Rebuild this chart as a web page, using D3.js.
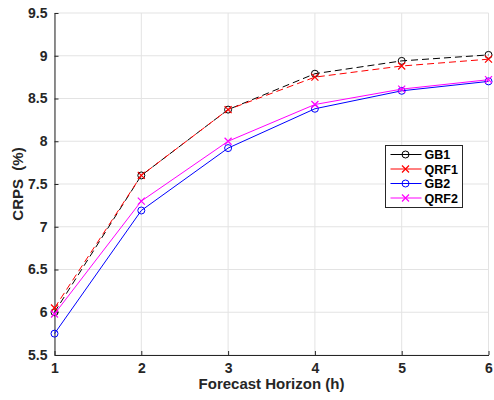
<!DOCTYPE html>
<html>
<head>
<meta charset="utf-8">
<script src="https://cdn.jsdelivr.net/npm/d3@7"></script>
<style>
  body { margin: 0; background: #fff; }
  svg { font-family: "Liberation Sans", Arial, sans-serif; }
</style>
</head>
<body>
<div id="chart"></div>
<script>

var horizons = [ 1, 2, 3, 4, 5, 6 ];
var gb1  = [ 6.00, 7.60, 8.37, 8.79, 8.94, 9.01 ];
var qrf1 = [ 6.05, 7.60, 8.37, 8.75, 8.88, 8.96 ];
var gb2  = [ 5.75, 7.19, 7.92, 8.38, 8.59, 8.70 ];
var qrf2 = [ 5.98, 7.30, 8.00, 8.43, 8.61, 8.72 ];
var yTicks = [ 5.5, 6, 6.5, 7, 7.5, 8, 8.5, 9, 9.5 ];

var series = [
    { name: 'GB1',  values: gb1,  color: '#000000', dash: '7,4', marker: 'circle' },
    { name: 'QRF1', values: qrf1, color: '#ff0000', dash: '7,4', marker: 'cross' },
    { name: 'GB2',  values: gb2,  color: '#0000ff', dash: null,  marker: 'circle' },
    { name: 'QRF2', values: qrf2, color: '#ff00ff', dash: null,  marker: 'cross' }
];

var width = 494,
    height = 400,
    margin = { top: 13, right: 5, bottom: 45, left: 54.5 };

var x = d3.scaleLinear()
    .domain([ 1, 6 ])
    .range([ margin.left, width - margin.right - 0.5 ]);

var y = d3.scaleLinear()
    .domain([ 5.5, 9.5 ])
    .range([ height - margin.bottom, margin.top ]);

var svg = d3.select('#chart').append('svg')
    .attr('width', width)
    .attr('height', height);

// grid

svg.append('g').selectAll('line')
    .data( yTicks )
    .enter().append('line')
    .attr('x1', x( 1 )).attr('x2', x( 6 ))
    .attr('y1', function ( d ) { return y( d ) })
    .attr('y2', function ( d ) { return y( d ) })
    .style('stroke', '#e3e3e3')
    .style('stroke-width', 1);

svg.append('g').selectAll('line')
    .data( horizons )
    .enter().append('line')
    .attr('x1', function ( d ) { return x( d ) })
    .attr('x2', function ( d ) { return x( d ) })
    .attr('y1', y( 5.5 )).attr('y2', y( 9.5 ))
    .style('stroke', '#e3e3e3')
    .style('stroke-width', 1);

// axes

var xAxis = svg.append('g')
    .attr('transform', 'translate(0,' + y( 5.5 ) + ')')
    .call( d3.axisBottom( x ).tickValues( horizons ).tickFormat( d3.format('d') ).tickSizeInner( -4 ).tickSizeOuter( 0 ).tickPadding( 8 ) );

var yAxis = svg.append('g')
    .attr('transform', 'translate(' + x( 1 ) + ',0)')
    .call( d3.axisLeft( y ).tickValues( yTicks ).tickFormat( function ( d ) { return d } ).tickSizeInner( -4 ).tickSizeOuter( 0 ).tickPadding( 7 ) );

[ xAxis, yAxis ].forEach( function ( a ) {
    a.select('.domain').style('stroke', '#262626').style('stroke-width', 1);
    a.selectAll('.tick line').style('stroke', '#262626');
    a.selectAll('.tick text')
        .style('font-size', '14px')
        .style('font-weight', 'bold')
        .style('fill', '#262626');
});

svg.append('text')
    .attr('x', ( x( 1 ) + x( 6 ) ) / 2)
    .attr('y', 389)
    .attr('text-anchor', 'middle')
    .style('font-size', '15px')
    .style('font-weight', 'bold')
    .style('fill', '#262626')
    .text('Forecast Horizon (h)');

svg.append('text')
    .attr('transform', 'translate(23,' + ( ( y( 5.5 ) + y( 9.5 ) ) / 2 ) + ') rotate(-90)')
    .attr('text-anchor', 'middle')
    .style('font-size', '15px')
    .style('font-weight', 'bold')
    .style('fill', '#262626')
    .style('white-space', 'pre')
    .text('CRPS  (%)');

// lines and markers

var line = d3.line()
    .x( function ( d, i ) { return x( horizons[ i ] ) })
    .y( function ( d ) { return y( d ) });

function drawMarker ( g, type, cx, cy, color ) {

    if ( type === 'circle' ) {

        g.append('circle')
            .attr('cx', cx).attr('cy', cy).attr('r', 3.5)
            .style('fill', 'none')
            .style('stroke', color)
            .style('stroke-width', 1);

    } else {

        var s = 3.5;
        g.append('path')
            .attr('d', 'M' + ( cx - s ) + ',' + ( cy - s ) + 'L' + ( cx + s ) + ',' + ( cy + s ) +
                       'M' + ( cx - s ) + ',' + ( cy + s ) + 'L' + ( cx + s ) + ',' + ( cy - s ))
            .style('stroke', color)
            .style('stroke-width', 1.2);

    }

}

series.forEach( function ( s ) {

    var g = svg.append('g');

    g.append('path')
        .datum( s.values )
        .attr('d', line)
        .style('fill', 'none')
        .style('stroke', s.color)
        .style('stroke-width', 1)
        .style('stroke-dasharray', s.dash);

    s.values.forEach( function ( v, i ) {
        drawMarker( g, s.marker, x( horizons[ i ] ), y( v ), s.color );
    });

});

// legend

var lx = 385.5, ly = 145.5, lw = 77, lh = 62;

var legend = svg.append('g');

legend.append('rect')
    .attr('x', lx).attr('y', ly)
    .attr('width', lw).attr('height', lh)
    .style('fill', '#fff')
    .style('stroke', '#262626')
    .style('stroke-width', 1);

series.forEach( function ( s, i ) {

    var cy = ly + 9 + i * 14.5;

    legend.append('line')
        .attr('x1', lx + 5).attr('x2', lx + 36)
        .attr('y1', cy).attr('y2', cy)
        .style('stroke', s.color)
        .style('stroke-width', 1);

    drawMarker( legend, s.marker, lx + 20, cy, s.color );

    legend.append('text')
        .attr('x', lx + 39)
        .attr('y', cy)
        .attr('dy', '0.36em')
        .style('font-size', '12.5px')
        .style('font-weight', 'bold')
        .style('fill', '#000')
        .text( s.name );

});

</script>
</body>
</html>
